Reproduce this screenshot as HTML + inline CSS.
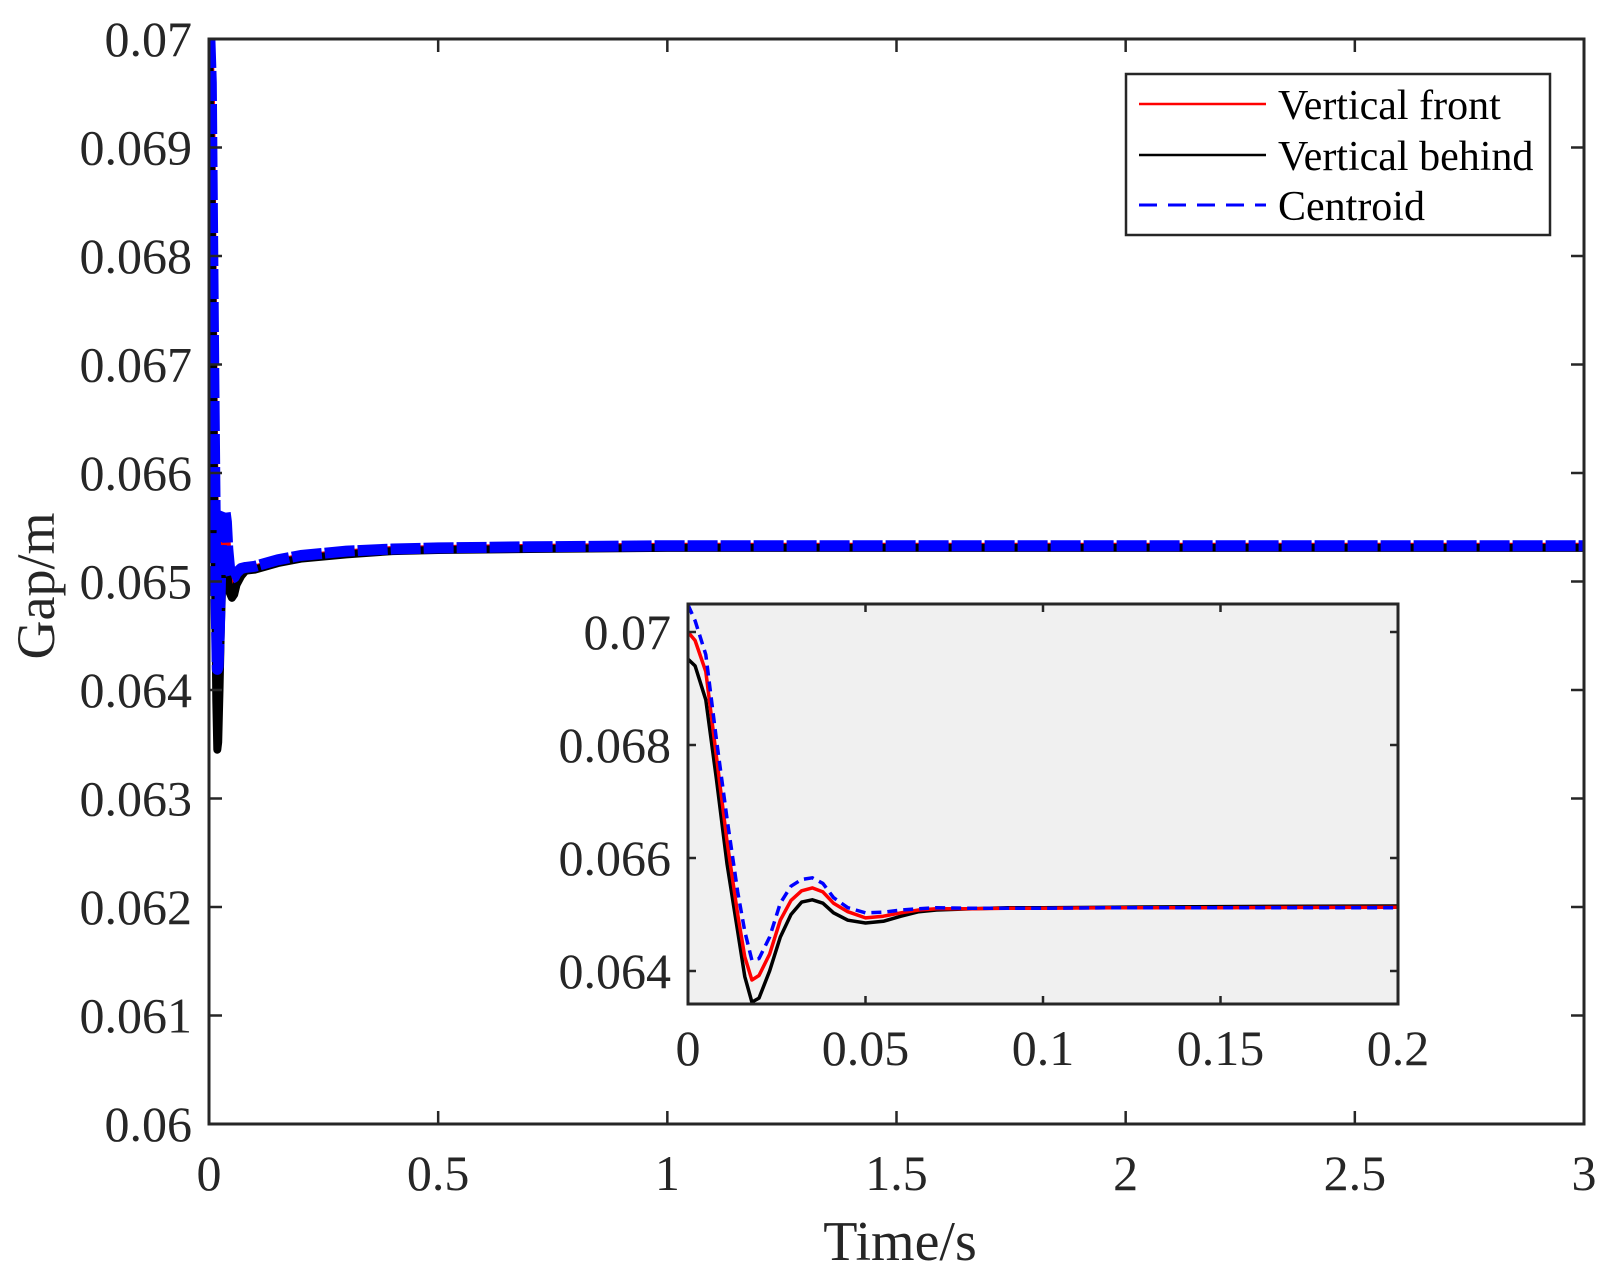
<!DOCTYPE html>
<html><head><meta charset="utf-8"><style>
body{margin:0;background:#fff}
svg{display:block;font-family:"Liberation Serif",serif}
</style></head><body>
<svg id="c" width="1609" height="1276" viewBox="0 0 1609 1276" xmlns="http://www.w3.org/2000/svg">
<defs>
<clipPath id="mainClip"><rect x="209" y="39" width="1375" height="1085"/></clipPath>
<clipPath id="inClip"><rect x="688" y="604" width="710" height="400"/></clipPath>
</defs>
<g id="main"></g>
<g id="inset"></g>
<g>
<rect x="1126" y="74" width="424" height="161" fill="#fff" stroke="#262626" stroke-width="2.5"/>
<line x1="1139" y1="104" x2="1266" y2="104" stroke="#f00" stroke-width="2.5"/>
<text x="1278" y="119" font-size="42" fill="#000">Vertical front</text>
<line x1="1139" y1="155" x2="1266" y2="155" stroke="#000" stroke-width="2.5"/>
<text x="1278" y="170" font-size="42" fill="#000">Vertical behind</text>
<line x1="1139" y1="205" x2="1266" y2="205" stroke="#00f" stroke-width="3" stroke-dasharray="18,11"/>
<text x="1278" y="220" font-size="42" fill="#000">Centroid</text>
</g>
</svg>
<script>
const earlyT=[0,0.002,0.005,0.008,0.011,0.014,0.016,0.018,0.020,0.023,0.026,0.029,0.032,0.035,0.038,0.041,0.045,0.05,0.055,0.06,0.065,0.07,0.08,0.09,0.1,0.12,0.15,0.2];
const insetRed=[0.0700,0.06985,0.0693,0.0678,0.0663,0.0650,0.06425,0.06384,0.06392,0.0643,0.0649,0.06525,0.06542,0.06547,0.0654,0.0652,0.06505,0.06494,0.06497,0.06503,0.06508,0.0651,0.0651,0.06511,0.06511,0.06512,0.06512,0.06513];
const insetBlack=[0.06952,0.0694,0.0688,0.0674,0.0659,0.0647,0.0639,0.06345,0.06352,0.0640,0.0646,0.0650,0.06522,0.06526,0.0652,0.06503,0.0649,0.06485,0.06488,0.06497,0.06505,0.06508,0.0651,0.06512,0.06512,0.06513,0.06514,0.06515];
const insetBlue=[0.07048,0.0702,0.0696,0.0681,0.0667,0.0654,0.0647,0.06419,0.06422,0.0646,0.0652,0.0655,0.06562,0.06565,0.06555,0.0653,0.06512,0.06503,0.06504,0.06508,0.0651,0.06512,0.06511,0.06511,0.06511,0.06512,0.06512,0.06512];
const mainT=[0,0.002,0.005,0.008,0.011,0.014,0.016,0.018,0.020,0.023,0.026,0.029,0.032,0.035,0.038,0.041,0.045,0.05,0.055,0.06,0.07,0.08,0.1,0.15,0.2,0.3,0.4,0.5,0.7,1,1.5,2,3];
const mainRed=[0.0700,0.0699,0.0693,0.0678,0.0663,0.0650,0.06425,0.06384,0.06392,0.0643,0.0649,0.06525,0.06542,0.06547,0.0654,0.0652,0.06505,0.06494,0.06497,0.06503,0.06508,0.0651,0.06512,0.06518,0.06522,0.06526,0.06529,0.0653,0.06531,0.06532,0.06532,0.06532,0.06532];
const mainBlack=[0.0700,0.0694,0.0688,0.0674,0.0659,0.0647,0.0639,0.06345,0.06352,0.0640,0.0646,0.0650,0.06522,0.06526,0.0652,0.06503,0.0649,0.06485,0.06488,0.06497,0.06505,0.0651,0.06511,0.06517,0.06521,0.06525,0.06528,0.06529,0.0653,0.06531,0.06531,0.06531,0.06531];
const mainBlue=[0.0700,0.0700,0.0696,0.0681,0.0667,0.0654,0.0647,0.06419,0.06422,0.0646,0.0652,0.0655,0.06562,0.06565,0.06555,0.0653,0.06512,0.06503,0.06504,0.06508,0.06512,0.06513,0.06514,0.0652,0.06524,0.06528,0.0653,0.06531,0.06532,0.06533,0.06533,0.06533,0.06533];
const mainXTicks=[0,0.5,1,1.5,2,2.5,3];
const mainXLabels=["0","0.5","1","1.5","2","2.5","3"];
const mainYTicks=[0.06,0.061,0.062,0.063,0.064,0.065,0.066,0.067,0.068,0.069,0.07];
const mainYLabels=["0.06","0.061","0.062","0.063","0.064","0.065","0.066","0.067","0.068","0.069","0.07"];
const inXTicks=[0,0.05,0.1,0.15,0.2];
const inXLabels=["0","0.05","0.1","0.15","0.2"];
const inYTicks=[0.064,0.066,0.068,0.07];
const inYLabels=["0.064","0.066","0.068","0.07"];

const NS="http://www.w3.org/2000/svg";
function mk(tag,attrs,parent,txt){const e=document.createElementNS(NS,tag);for(const k in attrs)e.setAttribute(k,attrs[k]);if(txt!==undefined)e.textContent=txt;parent.appendChild(e);return e;}

// MAIN
const gm=document.getElementById('main');
const M={L:209,R:1584,T:39,B:1124,x0:0,x1:3,y0:0.06,y1:0.07};
const mx=v=>M.L+(v-M.x0)/(M.x1-M.x0)*(M.R-M.L);
const my=v=>M.B-(v-M.y0)/(M.y1-M.y0)*(M.B-M.T);
const mplot=mk('g',{'clip-path':'url(#mainClip)'},gm);


function series(parent,ts,vs,sx,sy,color,w,dash,name){
  const d=ts.map((t,i)=>(i?'L':'M')+sx(t).toFixed(1)+','+sy(vs[i]).toFixed(1)).join(' ');
  const p=mk('path',{d:d,fill:'none',stroke:color,'stroke-width':w,'stroke-linejoin':'round'},parent);
  if(dash)p.setAttribute('stroke-dasharray',dash);
  
  
}
series(mplot,mainT,mainRed,mx,my,'#f00',8,null,'main-line-vertical-front');
series(mplot,mainT,mainBlack,mx,my,'#000',8,null,'main-line-vertical-behind');
series(mplot,mainT,mainBlue,mx,my,'#00f',11,'30,3','main-line-centroid');
mk('rect',{x:M.L,y:M.T,width:M.R-M.L,height:M.B-M.T,fill:'none',stroke:'#262626','stroke-width':3},gm);
mainXTicks.forEach((v,i)=>{
  const x=mx(v);
  mk('line',{x1:x,y1:M.B,x2:x,y2:M.B-13,stroke:'#262626','stroke-width':2.5},gm);
  mk('line',{x1:x,y1:M.T,x2:x,y2:M.T+13,stroke:'#262626','stroke-width':2.5},gm);
  const t=mk('text',{x:x,y:M.B+66,'font-size':50,'text-anchor':'middle',fill:'#262626'},gm,mainXLabels[i]);
  
  
});
mainYTicks.forEach((v,i)=>{
  const y=my(v);
  mk('line',{x1:M.L,y1:y,x2:M.L+13,y2:y,stroke:'#262626','stroke-width':2.5},gm);
  mk('line',{x1:M.R,y1:y,x2:M.R-13,y2:y,stroke:'#262626','stroke-width':2.5},gm);
  const t=mk('text',{x:M.L-17,y:y+17,'font-size':50,'text-anchor':'end',fill:'#262626'},gm,mainYLabels[i]);
  
  
});
const xt=mk('text',{x:900,y:1260,'font-size':56,'text-anchor':'middle',fill:'#262626'},gm,'Time/s');


const yt=mk('text',{x:0,y:0,'font-size':54,'text-anchor':'middle',fill:'#262626',transform:'translate(54,586) rotate(-90)'},gm,'Gap/m');



// INSET
const gi=document.getElementById('inset');


const I={L:688,R:1398,T:604,B:1004};
const ix=v=>I.L+v/0.2*(I.R-I.L);
const iy=v=>971-(v-0.064)/0.006*(971-632);
mk('rect',{x:I.L,y:I.T,width:I.R-I.L,height:I.B-I.T,fill:'#f0f0f0'},gi);
const iplot=mk('g',{'clip-path':'url(#inClip)'},gi);


series(iplot,earlyT,insetBlack,ix,iy,'#000',3.5,null,'inset-line-vertical-behind');
series(iplot,earlyT,insetRed,ix,iy,'#f00',3.5,null,'inset-line-vertical-front');
series(iplot,earlyT,insetBlue,ix,iy,'#00f',3.5,'10,6','inset-line-centroid');
mk('rect',{x:I.L,y:I.T,width:I.R-I.L,height:I.B-I.T,fill:'none',stroke:'#262626','stroke-width':3},gi);
inXTicks.forEach((v,i)=>{
  const x=ix(v);
  mk('line',{x1:x,y1:I.B,x2:x,y2:I.B-8,stroke:'#262626','stroke-width':2.5},gi);
  mk('line',{x1:x,y1:I.T,x2:x,y2:I.T+8,stroke:'#262626','stroke-width':2.5},gi);
  const t=mk('text',{x:x,y:I.B+61,'font-size':50,'text-anchor':'middle',fill:'#262626'},gi,inXLabels[i]);
  
  
});
inYTicks.forEach((v,i)=>{
  const y=iy(v);
  mk('line',{x1:I.L,y1:y,x2:I.L+8,y2:y,stroke:'#262626','stroke-width':2.5},gi);
  mk('line',{x1:I.R,y1:y,x2:I.R-8,y2:y,stroke:'#262626','stroke-width':2.5},gi);
  const t=mk('text',{x:I.L-17,y:y+17,'font-size':50,'text-anchor':'end',fill:'#262626'},gi,inYLabels[i]);
  
  
});
</script>
</body></html>
